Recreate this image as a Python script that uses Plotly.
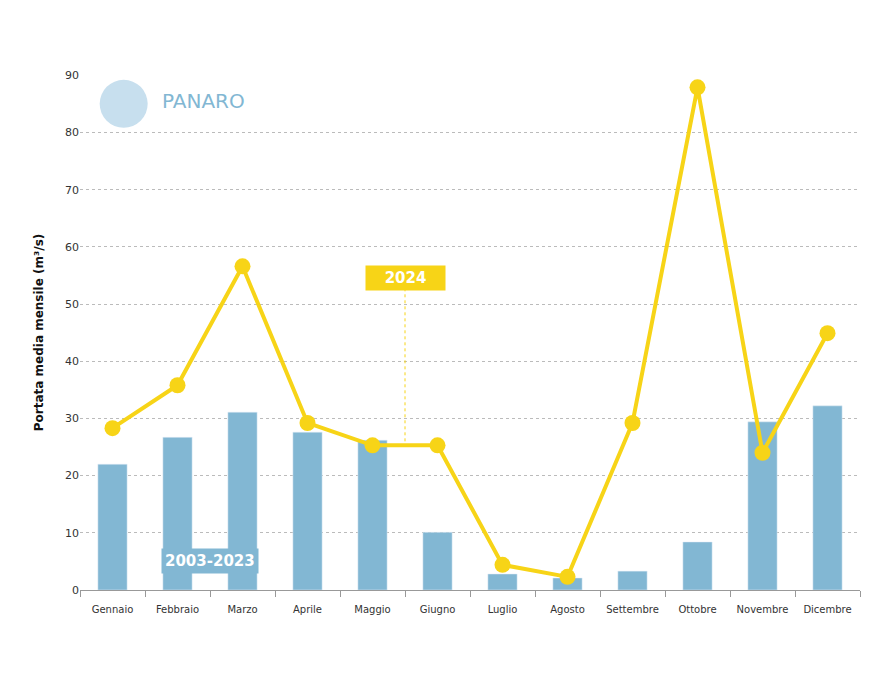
import plotly.graph_objects as go

months = ["Gennaio","Febbraio","Marzo","Aprile","Maggio","Giugno","Luglio","Agosto","Settembre","Ottobre","Novembre","Dicembre"]
avg_2003_2023 = [22.0,26.7,31.1,27.6,26.2,10.1,2.8,2.1,3.3,8.4,29.4,32.2]
flow_2024 = [28.3,35.8,56.6,29.2,25.3,25.3,4.4,2.3,29.2,87.9,24.0,44.9]

fig = go.Figure()
fig.add_trace(go.Bar(x=months, y=avg_2003_2023, marker_color="#82b7d3", width=0.45, name="2003-2023"))
fig.add_trace(go.Scatter(x=months, y=flow_2024, mode="lines+markers", line=dict(color="#f7d417", width=4),
                         marker=dict(size=16, color="#f7d417"), name="2024"))
fig.update_layout(
    width=882, height=682, showlegend=False, plot_bgcolor="white", paper_bgcolor="white",
    margin=dict(l=72, r=30, t=67, b=100, autoexpand=False),
    font=dict(family="DejaVu Sans", size=10, color="#333"),
    xaxis=dict(range=[-0.5, 11.5], showline=True, linecolor="#999", ticks="outside", tickson="boundaries", ticklen=6,
               tickcolor="#999", tickfont=dict(size=10), tickangle=0, automargin=False, ticklabelstandoff=10),
    yaxis=dict(range=[0, 90.05], dtick=10, showgrid=True, gridcolor="#bbb", griddash="dot",
               zeroline=False, showline=False, tickfont=dict(size=11), automargin=False,
               title=dict(text="<b>Portata media mensile (m³/s)</b>", standoff=18, font=dict(size=12, color="#111"))),
)
fig.add_shape(type="line", xref="x", yref="y", x0=4.5, x1=4.5, y0=26, y1=53, line=dict(color="#f7d417", width=1, dash="dot"))
fig.add_annotation(x=4.5, y=54.5, xref="x", yref="y", text="<b>   2024   </b>", showarrow=False,
                   bgcolor="#f7d417", font=dict(color="white", size=15), borderpad=3)
fig.add_annotation(x=1.5, y=5, xref="x", yref="y", text="<b>2003-2023</b>", showarrow=False,
                   bgcolor="#82b7d3", font=dict(color="white", size=15), borderpad=3)
fig.add_shape(type="circle", xref="paper", yref="paper", xsizemode="pixel", ysizemode="pixel",
              xanchor=0.056, yanchor=0.944, x0=-24, x1=24, y0=-24, y1=24,
              fillcolor="#c7dfee", line=dict(width=0))
fig.add_annotation(x=0.103, y=0.976, xref="paper", yref="paper", text="PANARO", showarrow=False,
                   xanchor="left", font=dict(color="#82b7d3", size=20))
fig.write_html("out.html")
